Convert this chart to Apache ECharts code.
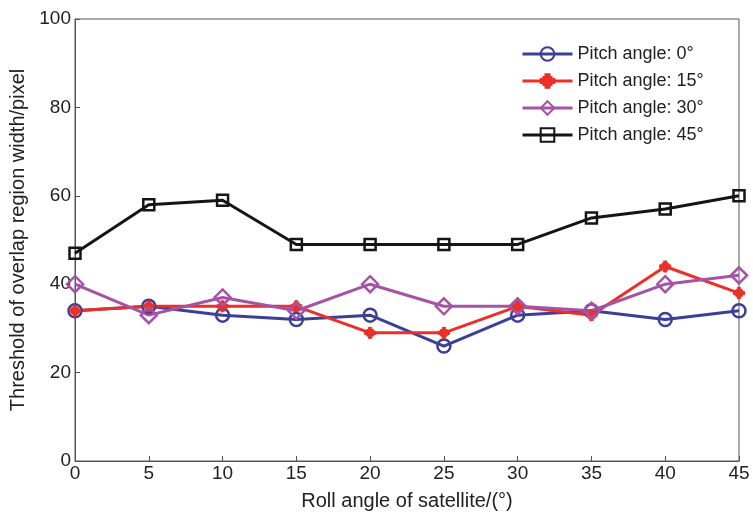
<!DOCTYPE html>
<html>
<head>
<meta charset="utf-8">
<script src="https://cdn.jsdelivr.net/npm/echarts@6/dist/echarts.min.js"></script>
<style>html,body{margin:0;padding:0;background:#fff;}#c{width:753px;height:516px;}</style>
</head>
<body>
<div id="c"></div>
<script>
var rollAngles = [0, 5, 10, 15, 20, 25, 30, 35, 40, 45];
var pitch0 = [34, 35, 33, 32, 33, 26, 33, 34, 32, 34];
var pitch15 = [34, 35, 35, 35, 29, 29, 35, 33, 44, 38];
var pitch30 = [40, 33, 37, 34, 40, 35, 35, 34, 40, 42];
var pitch45 = [47, 58, 59, 49, 49, 49, 49, 55, 57, 60];
var seriesNames = ['Pitch angle: 0°', 'Pitch angle: 15°', 'Pitch angle: 30°', 'Pitch angle: 45°'];

function pairs(vals) { return rollAngles.map(function (x, i) { return [x, vals[i]]; }); }

var FONT = 'Liberation Sans';
var PLUS = 'path://M3.5,0 L6.5,0 L6.5,2 L8,2 L8,3.5 L10,3.5 L10,6.5 L8,6.5 L8,8 L6.5,8 L6.5,10 L3.5,10 L3.5,8 L2,8 L2,6.5 L0,6.5 L0,3.5 L2,3.5 L2,2 L3.5,2 Z';
var chart = echarts.init(document.getElementById('c'), null, { renderer: 'canvas' });

function mk(name, vals, color, symbol, size, filled) {
  return {
    name: name, type: 'line', data: pairs(vals),
    symbol: symbol, symbolSize: size, showAllSymbol: true,
    lineStyle: { color: color, width: 3 },
    itemStyle: filled ? { color: color, borderColor: color, borderWidth: 1 } : { color: 'rgba(255,255,255,0)', borderColor: color, borderWidth: 2.5 },
    emphasis: { disabled: true },
    animation: false
  };
}

chart.setOption({
  animation: false,
  grid: { left: 75, right: 14, top: 19, bottom: 54, show: true, borderColor: '#555', borderWidth: 1, backgroundColor: 'transparent' },
  legend: {
    orient: 'vertical', left: 516, top: 40,
    itemWidth: 50, itemHeight: 17, itemGap: 9,
    lineStyle: { width: 3 },
    textStyle: { fontFamily: FONT, fontSize: 18, color: '#222' },
    data: seriesNames
  },
  xAxis: {
    type: 'value', min: 0, max: 45, interval: 5,
    name: 'Roll angle of satellite/(°)', nameLocation: 'middle', nameGap: 30,
    nameTextStyle: { fontFamily: FONT, fontSize: 20, color: '#222' },
    axisLine: { lineStyle: { color: '#555', width: 1 } },
    axisTick: { inside: true, length: 5, lineStyle: { color: '#555' } },
    axisLabel: { fontFamily: FONT, fontSize: 19, color: '#222', margin: 3 },
    splitLine: { show: false }
  },
  yAxis: {
    type: 'value', min: 0, max: 100, interval: 20,
    name: 'Threshold of overlap region width/pixel', nameLocation: 'middle', nameGap: 39,
    nameTextStyle: { fontFamily: FONT, fontSize: 20, color: '#222' },
    axisLine: { lineStyle: { color: '#555', width: 1 } },
    axisTick: { inside: true, length: 5, lineStyle: { color: '#555' } },
    axisLabel: { fontFamily: FONT, fontSize: 19, color: '#222', margin: 4 },
    splitLine: { show: false }
  },
  series: [
    mk(seriesNames[0], pitch0, '#3b3f97', 'circle', 13, false),
    mk(seriesNames[1], pitch15, '#ec2f27', PLUS, 11, true),
    mk(seriesNames[2], pitch30, '#a553a7', 'diamond', 16, false),
    mk(seriesNames[3], pitch45, '#151515', 'rect', 11, false)
  ]
});
</script>
</body>
</html>
